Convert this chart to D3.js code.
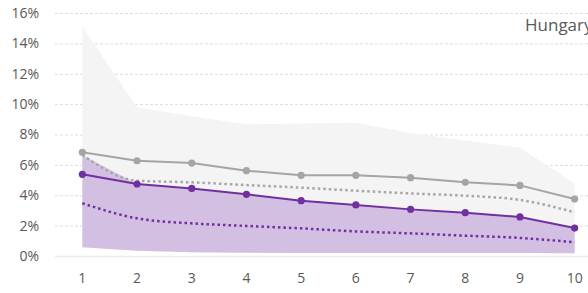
<!DOCTYPE html>
<html>
<head>
<meta charset="utf-8">
<script src="https://cdn.jsdelivr.net/npm/d3@7"></script>
<style>
body { margin: 0; background: #fff; overflow: hidden; }
svg { display: block; font-family: "Open Sans", "Noto Sans", sans-serif; }
</style>
</head>
<body>
<div id="chart"></div>
<script>
// deciles
let deciles = [1,2,3,4,5,6,7,8,9,10];
let yTicks = [0,2,4,6,8,10,12,14,16];

// grey band (other countries, range)
let greyHigh = [15.1, 9.8, 9.2, 8.67, 8.72, 8.78, 8.1, 7.6, 7.14, 4.78];
let greyLow  = [0.57, 0.35, 0.25, 0.22, 0.2, 0.2, 0.2, 0.19, 0.19, 0.18];
// purple band (Hungary, range)
let purpleHigh = [6.65, 4.74, 4.45, 4.06, 3.64, 3.36, 3.07, 2.85, 2.57, 1.84];
let purpleLow  = [0.57, 0.35, 0.25, 0.22, 0.2, 0.2, 0.2, 0.19, 0.19, 0.18];

let greySolid = [6.83, 6.27, 6.12, 5.62, 5.31, 5.31, 5.16, 4.85, 4.65, 3.75];
let greyDotted = [6.65, 4.96, 4.85, 4.67, 4.5, 4.3, 4.12, 3.97, 3.69, 2.88];
let purpleSolid = [5.38, 4.74, 4.45, 4.06, 3.64, 3.36, 3.07, 2.85, 2.57, 1.84];
let purpleDotted = [3.47, 2.48, 2.15, 1.98, 1.82, 1.62, 1.49, 1.34, 1.19, 0.9];

let Width = 588, Height = 293;
let svg = d3.select("#chart").append("svg")
	.attr("width",Width)
	.attr("height",Height);

let x = d3.scalePoint().domain(deciles).range([55,602]).padding(0.5);
let y = d3.scaleLinear().domain([0,16]).range([256,13]);

// gridlines
svg.append("g").selectAll("line")
	.data(yTicks.filter(d => d > 0))
	.enter().append("line")
		.attr("x1",55).attr("x2",Width)
		.attr("y1",d => y(d)+0.5).attr("y2",d => y(d)+0.5)
		.attr("stroke","#dcdcdc")
		.attr("stroke-dasharray","3,2");

// areas
let area = (hi,lo) => d3.area()
	.x((d,i) => x(deciles[i]))
	.y0((d,i) => y(lo[i]))
	.y1((d,i) => y(hi[i]))(hi);

svg.append("path").attr("d",area(greyHigh,greyLow)).attr("fill","#f4f4f4");
svg.append("path").attr("d",area(purpleHigh,purpleLow)).attr("fill","#d3bfe2");

// baseline
svg.append("line")
	.attr("x1",55).attr("x2",Width)
	.attr("y1",y(0)+0.5).attr("y2",y(0)+0.5)
	.attr("stroke","#ececec").attr("stroke-width",1.5);

let lineGen = d3.line().x((d,i) => x(deciles[i])).y(d => y(d));
let smooth = d3.line().x((d,i) => x(deciles[i])).y(d => y(d)).curve(d3.curveMonotoneX);

// dotted lines
svg.append("path").attr("d",smooth(greyDotted))
	.attr("fill","none").attr("stroke","#a6a6a6")
	.attr("stroke-width",2.5).attr("stroke-dasharray","2.5,3");
svg.append("path").attr("d",smooth(purpleDotted))
	.attr("fill","none").attr("stroke","#7030a0")
	.attr("stroke-width",2.5).attr("stroke-dasharray","2.5,3");

// solid lines with markers
function drawSeries(values,color) {
	svg.append("path").attr("d",lineGen(values))
		.attr("fill","none").attr("stroke",color).attr("stroke-width",2);
	svg.append("g").selectAll("circle")
		.data(values)
		.enter().append("circle")
			.attr("cx",(d,i) => x(deciles[i]))
			.attr("cy",d => y(d))
			.attr("r",3.6)
			.attr("fill",color);
}
drawSeries(greySolid,"#a5a5a5");
drawSeries(purpleSolid,"#7030a0");

// y axis labels
svg.append("g").selectAll("text")
	.data(yTicks)
	.enter().append("text")
		.attr("x",39)
		.attr("y",d => y(d))
		.attr("dy","0.35em")
		.attr("text-anchor","end")
		.attr("font-size",14)
		.attr("fill","#595959")
		.text(d => d + "%");

// x axis labels
svg.append("g").selectAll("text")
	.data(deciles)
	.enter().append("text")
		.attr("x",d => x(d))
		.attr("y",278)
		.attr("dy","0.35em")
		.attr("text-anchor","middle")
		.attr("font-size",14)
		.attr("fill","#595959")
		.text(d => d);

svg.append("text")
	.attr("x",525).attr("y",31)
	.attr("font-size",17)
	.attr("fill","#595959")
	.text("Hungary");
</script>
</body>
</html>
